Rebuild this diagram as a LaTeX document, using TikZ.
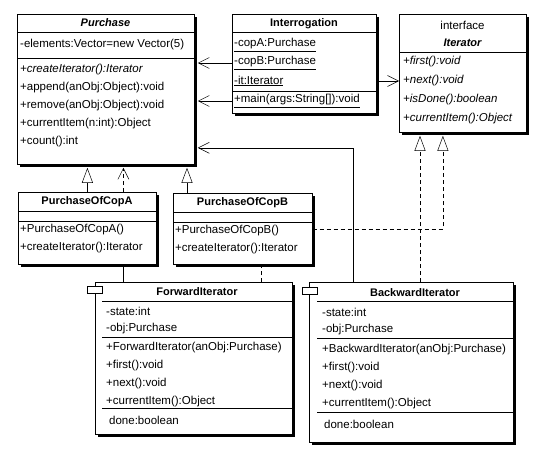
\documentclass[tikz,border=0pt]{standalone}
\usepackage{fontspec}
\setmainfont{Liberation Sans}
\usetikzlibrary{arrows.meta,shadows,backgrounds}

\tikzset{
  classbox/.style={draw, fill=white, line width=0.8pt, inner sep=0pt, anchor=north west,
    general shadow={fill=black, shadow xshift=2.5pt, shadow yshift=-2.5pt}},
  member/.style={anchor=west, inner sep=0pt, font=\fontsize{11.5}{13}\selectfont},
  classname/.style={inner sep=0pt, font=\fontsize{11}{13}\selectfont\bfseries},
  tabbox/.style={draw, fill=white, line width=0.6pt, minimum width=15pt, minimum height=7pt, inner sep=0pt},
  sep/.style={line width=0.6pt},
  assoc/.style={-{Straight Barb[length=11pt,width=11pt]}, line width=0.5pt},
  gen/.style={-{Triangle[open,length=15pt,width=11pt]}, line width=0.5pt},
  realize/.style={gen, dash pattern=on 4pt off 3pt},
  depend/.style={assoc, dash pattern=on 4pt off 3pt}
}

\begin{document}
\begin{tikzpicture}[x=1pt,y=-1pt]
\useasboundingbox (0,0) rectangle (559,465);

% Purchase
\node[classbox, minimum width=177, minimum height=150] (purchase) at (17,14) {};
\node[classname] (purchase-n) at (105.5,23) {\itshape Purchase};
\draw[sep] (17,32) -- (194,32) (17,58) -- (194,58);
\node[member] (purchase-a1) at (20,45) {-elements:Vector=new Vector(5)};
\foreach \m [count=\i] in {{\itshape +createIterator():Iterator}, +append(anObj:Object):void,
    +remove(anObj:Object):void, +currentItem(n:int):Object, +count():int}
  \node[member] (purchase-m\i) at (20,52+18*\i) {\m};

% Interrogation
\node[classbox, minimum width=144, minimum height=99] (interrog) at (232,14) {};
\node[classname] (interrog-n) at (304,24) {Interrogation};
\draw[sep] (232,32) -- (376,32) (232,91) -- (376,91);
\foreach \m [count=\i] in {-copA:Purchase, -copB:Purchase, -it:Iterator}
  \node[member] (interrog-a\i) at (234,27+18*\i) {\underline{\m}};
\node[member] (interrog-m1) at (234,101) {\underline{+main(args:String[]):void}};

% Iterator
\node[classbox, minimum width=127, minimum height=118] (iter) at (399,14) {};
\node[member, anchor=center] (iter-s) at (462.5,25) {interface};
\node[classname] (iter-n) at (462.5,43) {\itshape Iterator};
\draw[sep] (399,52) -- (526,52);
\foreach \m [count=\i] in {+first():void, +next():void, +isDone():boolean, +currentItem():Object}
  \node[member, font=\fontsize{11.5}{13}\selectfont\itshape] (iter-m\i) at (403,43.3+18.7*\i) {\m};

% PurchaseOfCopA
\node[classbox, minimum width=138, minimum height=72] (copA) at (18,192) {};
\node[classname] (copA-n) at (87,202) {PurchaseOfCopA};
\draw[sep] (18,211) -- (156,211) (18,221) -- (156,221);
\foreach \m [count=\i] in {+PurchaseOfCopA(), +createIterator():Iterator}
  \node[member] (copA-m\i) at (20,212+18*\i) {\m};

% PurchaseOfCopB
\node[classbox, minimum width=139, minimum height=71] (copB) at (173,193) {};
\node[classname] (copB-n) at (242.5,203) {PurchaseOfCopB};
\draw[sep] (173,212) -- (312,212) (173,222) -- (312,222);
\foreach \m [count=\i] in {+PurchaseOfCopB(), +createIterator():Iterator}
  \node[member] (copB-m\i) at (175,213+18*\i) {\m};

% ForwardIterator
\node[classbox, minimum width=197, minimum height=152] (fwd) at (95,282) {};
\node[tabbox] (fwd-tab) at (94.5,290) {};
\node[classname] (fwd-n) at (197,292) {ForwardIterator};
\draw[sep] (102,301) -- (292,301) (102,337) -- (292,337) (102,408) -- (292,408);
\foreach \m [count=\i] in {-state:int, -obj:Purchase}
  \node[member] (fwd-a\i) at (106,293+18*\i) {\m};
\foreach \m [count=\i] in {+ForwardIterator(anObj:Purchase), +first():void, +next():void, +currentItem():Object}
  \node[member] (fwd-m\i) at (106,330+18*\i) {\m};
\node[member] (fwd-d) at (109,420) {done:boolean};

% BackwardIterator
\node[classbox, minimum width=204, minimum height=160] (bwd) at (309,282) {};
\node[tabbox] (bwd-tab) at (309.5,291) {};
\node[classname] (bwd-n) at (415,293) {BackwardIterator};
\draw[sep] (317,301) -- (513,301) (317,338) -- (513,338) (317,412) -- (513,412);
\foreach \m [count=\i] in {-state:int, -obj:Purchase}
  \node[member] (bwd-a\i) at (322,294+18*\i) {\m};
\foreach \m [count=\i] in {+BackwardIterator(anObj:Purchase), +first():void, +next():void, +currentItem():Object}
  \node[member] (bwd-m\i) at (322,332+18*\i) {\m};
\node[member] (bwd-d) at (324,424) {done:boolean};

% connectors
\draw[assoc] (interrog-a2 -| interrog.west) -- ([xshift=3pt]interrog-a2 -| purchase.east);
\draw[assoc] (interrog-m1 -| interrog.west) -- ([xshift=3pt]interrog-m1 -| purchase.east);
\draw[assoc] ([xshift=2.5pt]interrog-a3 -| interrog.east) -- (interrog-a3 -| iter.west);
\draw[gen] (copA.north) -- ([yshift=-3pt]copA.north |- purchase.south);
\draw[depend] ([xshift=36pt]copA.north) -- ([xshift=36pt,yshift=-3pt]copA.north |- purchase.south);
\draw[gen] ([xshift=14pt]copB.north west) -- ([xshift=14pt,yshift=-3pt]copB.north west |- purchase.south);
\draw[line width=0.5pt] ([xshift=36pt]copA.south) -- ([xshift=36pt]copA.south |- fwd.north);
\draw[assoc] ([xshift=44pt]bwd.north west) |- ([xshift=3pt,yshift=17pt]purchase.south east);
\draw[realize] ([xshift=111pt]bwd.north west) -- ([xshift=111pt,yshift=-3pt]bwd.north west |- iter.south);
\begin{scope}[on background layer]
  \draw[realize] ([xshift=-32pt]fwd.north east) |- (copB.east) -| ([xshift=-20pt,yshift=-3pt]iter.south);
\end{scope}
\end{tikzpicture}
\end{document}
